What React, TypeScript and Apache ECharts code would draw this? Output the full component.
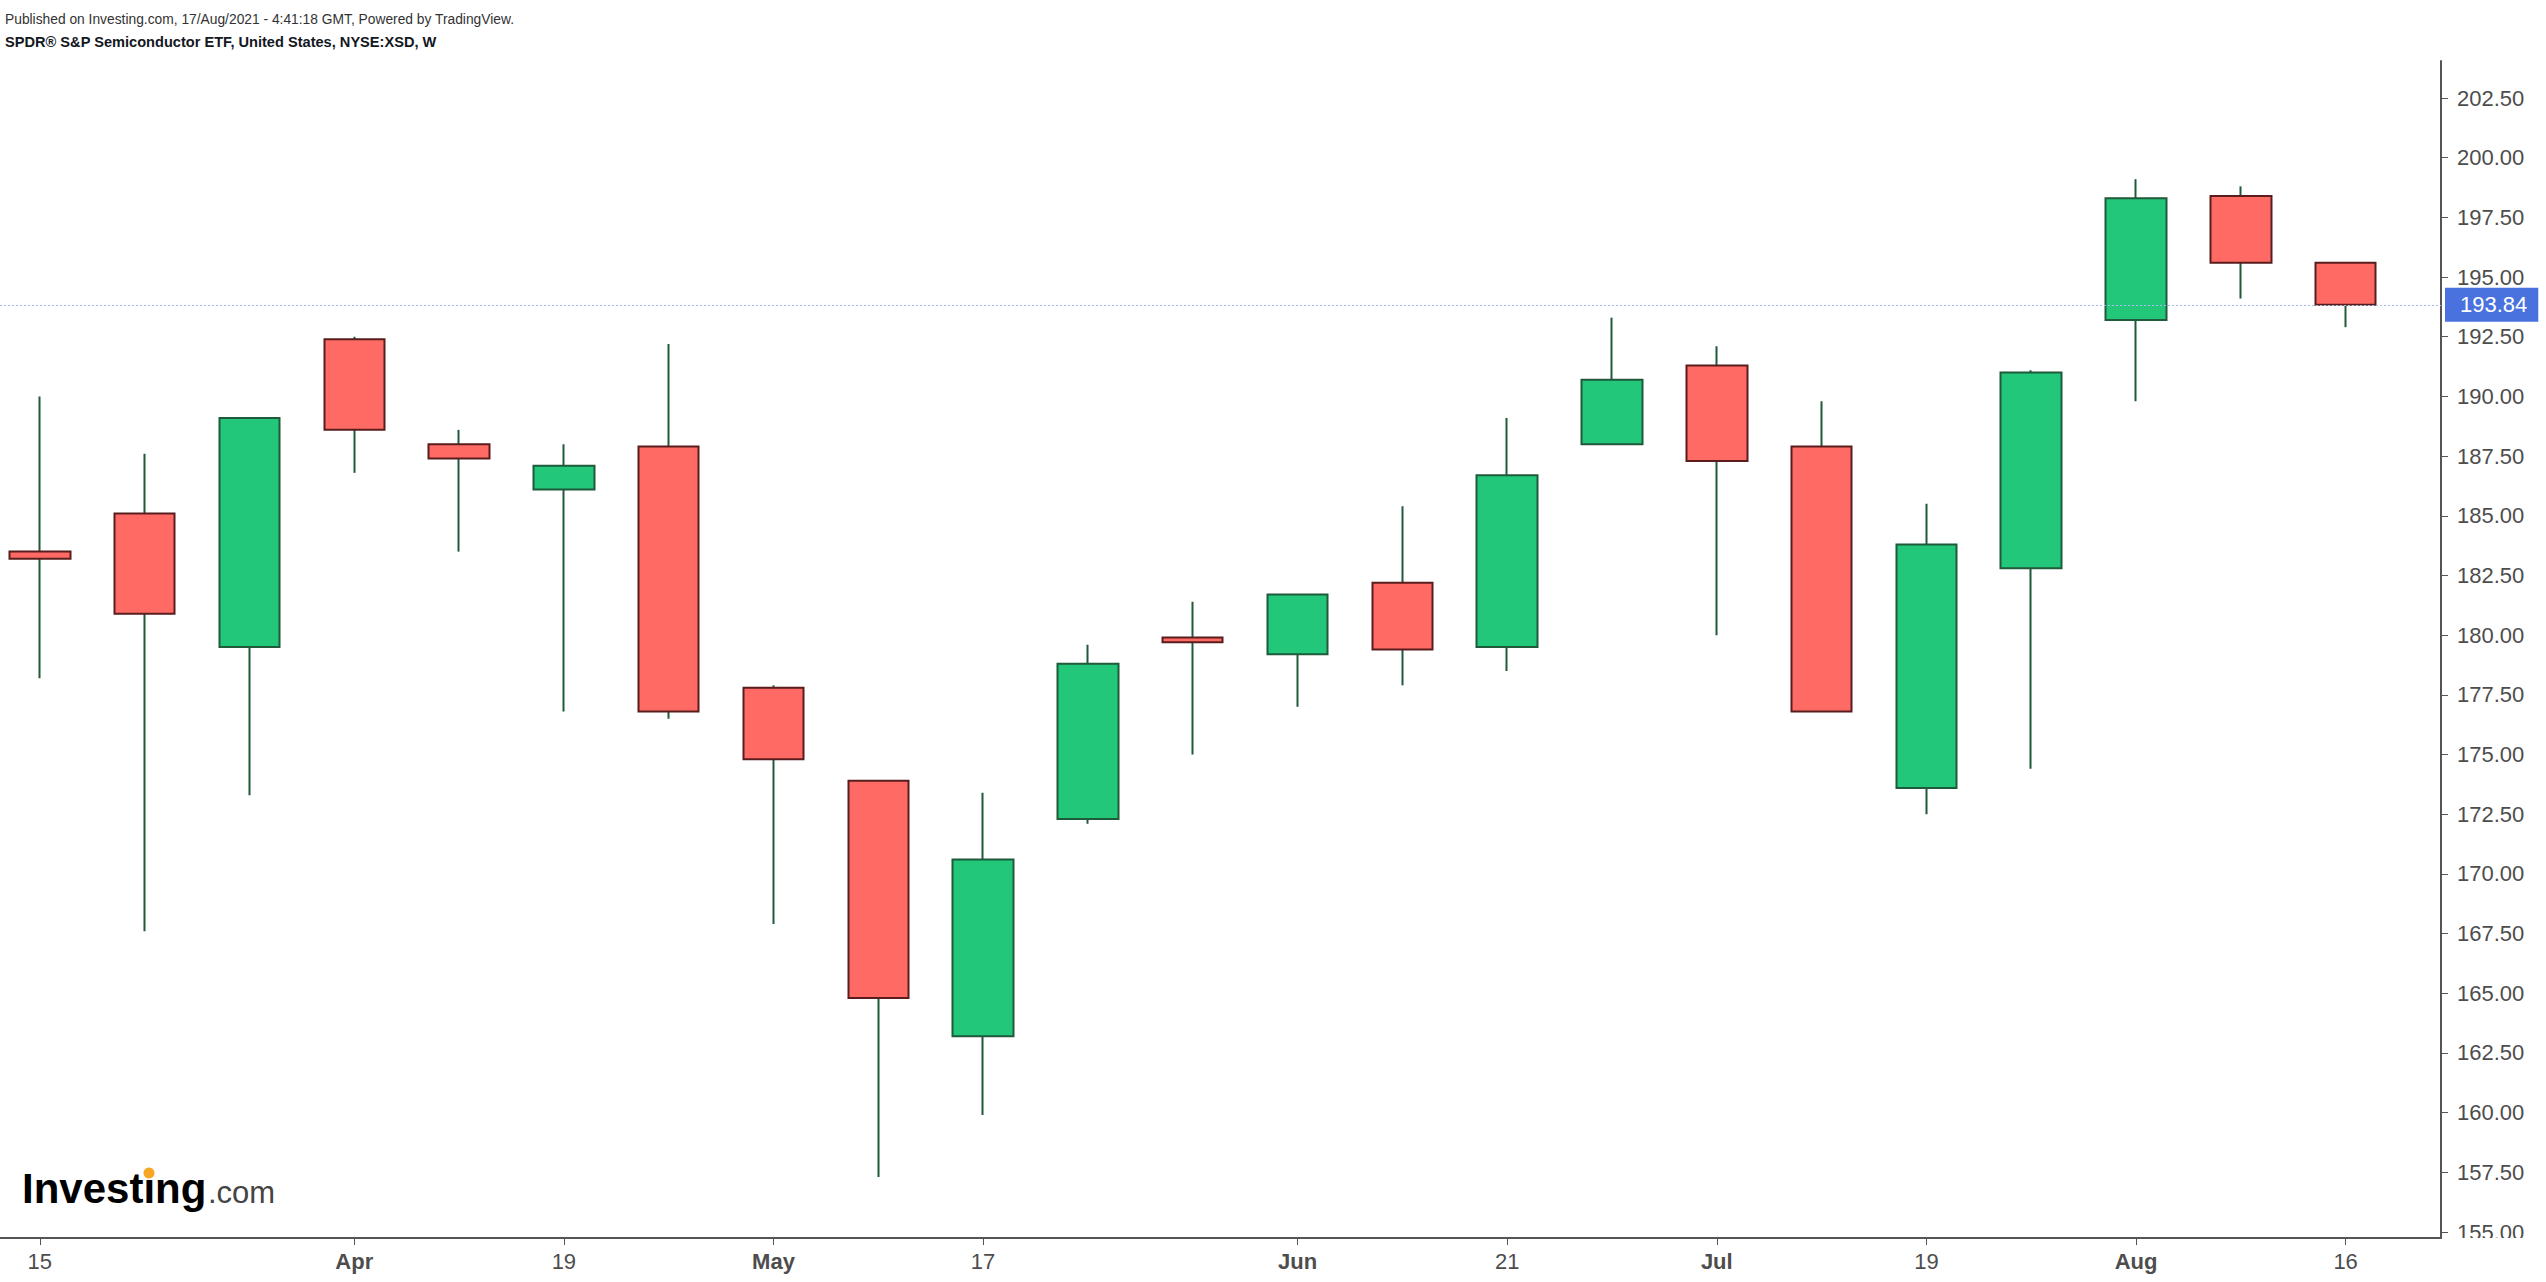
import React, { useEffect, useRef } from 'react';
import * as echarts from 'echarts';

// Weekly bars of SPDR S&P Semiconductor ETF (NYSE:XSD)
const weeks = [
  '2021-03-15', '2021-03-22', '2021-03-29', '2021-04-05', '2021-04-12', '2021-04-19',
  '2021-04-26', '2021-05-03', '2021-05-10', '2021-05-17', '2021-05-24', '2021-05-31',
  '2021-06-07', '2021-06-14', '2021-06-21', '2021-06-28', '2021-07-05', '2021-07-12',
  '2021-07-19', '2021-07-26', '2021-08-02', '2021-08-09', '2021-08-16',
];
const opens = [
  183.5, 185.1, 179.5, 192.4, 188.0, 186.1, 187.9, 177.8, 173.9, 163.2, 172.3, 179.9,
  179.2, 182.2, 179.5, 188.0, 191.3, 187.9, 173.6, 182.8, 193.2, 198.4, 195.6,
];
const closes = [
  183.2, 180.9, 189.1, 188.6, 187.4, 187.1, 176.8, 174.8, 164.8, 170.6, 178.8, 179.7,
  181.7, 179.4, 186.7, 190.7, 187.3, 176.8, 183.8, 191.0, 198.3, 195.6, 193.84,
];
const lows = [
  178.2, 167.6, 173.3, 186.8, 183.5, 176.8, 176.5, 167.9, 157.3, 159.9, 172.1, 175.0,
  177.0, 177.9, 178.5, 188.0, 180.0, 176.8, 172.5, 174.4, 189.8, 194.1, 192.9,
];
const highs = [
  190.0, 187.6, 189.1, 192.5, 188.6, 188.0, 192.2, 177.9, 173.9, 173.4, 179.6, 181.4,
  181.7, 185.4, 189.1, 193.3, 192.1, 189.8, 185.5, 191.1, 199.1, 198.8, 195.6,
];

const xTickIndex = [0, 3, 5, 7, 9, 12, 14, 16, 18, 20, 22];
const xTickLabels = ['15', 'Apr', '19', 'May', '17', 'Jun', '21', 'Jul', '19', 'Aug', '16'];
const monthLabels = ['Apr', 'May', 'Jun', 'Jul', 'Aug'];
const yTicks = [
  155, 157.5, 160, 162.5, 165, 167.5, 170, 172.5, 175, 177.5, 180, 182.5, 185, 187.5,
  190, 192.5, 195, 197.5, 200, 202.5,
];

const headerLine1 = 'Published on Investing.com, 17/Aug/2021 - 4:41:18 GMT, Powered by TradingView.';
const headerLine2 = 'SPDR® S&P Semiconductor ETF, United States, NYSE:XSD, W';

const FONT = '"Liberation Sans", Arial, Helvetica, sans-serif';

export default function App() {
  const ref = useRef<HTMLDivElement>(null);

  useEffect(() => {
    if (!ref.current) return;
    const chart = echarts.init(ref.current, null, { renderer: 'svg' });

    const wickData = weeks.map((_, i) => [i, opens[i], closes[i], lows[i], highs[i]]);
    const bodyData = weeks.map((_, i) => [
      i,
      opens[i],
      closes[i],
      Math.min(opens[i], closes[i]),
      Math.max(opens[i], closes[i]),
    ]);
    const lastPrice = closes[closes.length - 1];

    const option: any = {
      animation: false,
      backgroundColor: '#ffffff',
      grid: { left: 0, right: 105, top: 61, bottom: 44, containLabel: false },
      xAxis: {
        type: 'value',
        min: -0.38,
        max: 22.91,
        splitLine: { show: false },
        axisLine: { show: true, onZero: false, lineStyle: { color: '#555555', width: 2 } },
        axisTick: {
          show: true,
          customValues: xTickIndex,
          length: 7,
          lineStyle: { color: '#555555', width: 1 },
        },
        axisLabel: {
          customValues: xTickIndex,
          margin: 12,
          fontSize: 22,
          fontFamily: FONT,
          color: '#4d4d4d',
          formatter: (v: number) => {
            const k = xTickIndex.indexOf(Math.round(v));
            const t = k >= 0 ? xTickLabels[k] : '';
            return monthLabels.includes(t) ? `{m|${t}}` : t;
          },
          rich: {
            m: { fontWeight: 'bold', fontSize: 22, fontFamily: FONT, color: '#4d4d4d' },
          },
        },
      },
      yAxis: {
        type: 'value',
        position: 'right',
        min: 154.75,
        max: 204.05,
        splitLine: { show: false },
        axisLine: { show: true, onZero: false, lineStyle: { color: '#555555', width: 2 } },
        axisTick: {
          show: true,
          customValues: yTicks,
          length: 7,
          lineStyle: { color: '#555555', width: 1 },
        },
        axisLabel: {
          customValues: yTicks,
          margin: 16,
          fontSize: 22,
          fontFamily: FONT,
          color: '#4d4d4d',
          formatter: (v: number) => v.toFixed(2),
        },
      },
      series: [
        {
          name: 'wicks',
          type: 'candlestick',
          data: wickData,
          barWidth: 1,
          z: 2,
          silent: true,
          itemStyle: {
            color: '#1f5a3a',
            color0: '#1f5a3a',
            borderColor: '#1f5a3a',
            borderColor0: '#1f5a3a',
            borderWidth: 2,
          },
        },
        {
          name: 'XSD',
          type: 'candlestick',
          data: bodyData,
          barWidth: 61,
          z: 3,
          itemStyle: {
            color: '#22c77a',
            color0: '#ff6b64',
            borderColor: '#1f5a3a',
            borderColor0: '#5a1d1d',
            borderWidth: 2,
          },
          markLine: {
            silent: true,
            symbol: ['none', 'none'],
            animation: false,
            lineStyle: { type: [2, 2], color: '#a9bbec', width: 1.2 },
            label: {
              show: true,
              position: 'end',
              distance: 4,
              formatter: () => lastPrice.toFixed(2),
              backgroundColor: '#4a72df',
              color: '#ffffff',
              fontSize: 22,
              fontFamily: FONT,
              padding: [6, 11, 6, 15],
            },
            data: [{ yAxis: lastPrice }],
          },
        },
      ],
      graphic: [
        {
          type: 'text',
          x: 5,
          y: 19,
          style: {
            text: headerLine1,
            fontSize: 13.8,
            fontFamily: FONT,
            fill: '#333333',
            verticalAlign: 'middle',
          },
        },
        {
          type: 'text',
          x: 5,
          y: 42,
          style: {
            text: headerLine2,
            fontSize: 14.6,
            fontWeight: 'bold',
            fontFamily: FONT,
            fill: '#131722',
            verticalAlign: 'middle',
          },
        },
        {
          type: 'rect',
          z: 100,
          shape: { x: 2447, y: 1238, width: 99, height: 20 },
          style: { fill: '#ffffff' },
        },
        {
          type: 'text',
          x: 22,
          y: 1188,
          z: 100,
          style: {
            text: 'Investing',
            fontSize: 42,
            fontWeight: 'bold',
            fontFamily: FONT,
            fill: '#000000',
            verticalAlign: 'middle',
          },
        },
        {
          type: 'text',
          x: 208,
          y: 1192,
          z: 100,
          style: {
            text: '.com',
            fontSize: 31,
            fontFamily: FONT,
            fill: '#444444',
            verticalAlign: 'middle',
          },
        },
        {
          type: 'circle',
          z: 101,
          shape: { cx: 149, cy: 1173, r: 5.5 },
          style: { fill: '#f6a623' },
        },
      ],
    };

    chart.setOption(option);
    return () => chart.dispose();
  }, []);

  return (
    <div
      ref={ref}
      style={{ position: 'fixed', left: 0, top: 0, width: 2546, height: 1282, background: '#fff' }}
    />
  );
}
